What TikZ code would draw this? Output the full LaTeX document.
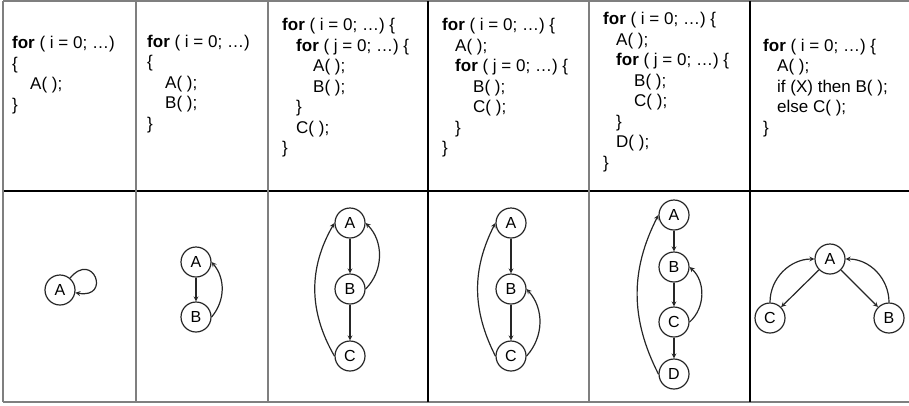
\documentclass[tikz,border=0pt]{standalone}
\usepackage{fontspec}
\setmainfont{Liberation Sans}
\usepackage{xcolor}
\usepackage{tikz}
\definecolor{gridGray}{HTML}{7F7F7F}
\definecolor{inkDark}{HTML}{262626}
\tikzset{
  cell/.style={line width=1.6pt, gridGray},
  rule/.style={line width=1.1pt, black},
  code/.style={anchor=west, align=left, inner sep=0pt, font=\fontsize{17}{20.5}\selectfont},
  vtx/.style={circle, draw=inkDark, line width=1.2pt, minimum size=30pt, inner sep=0pt, font=\fontsize{16}{16}\selectfont},
  edge/.style={-stealth, line width=1.2pt, inkDark},
}
\newcommand{\kw}[1]{\textbf{#1}}
\newcommand{\ind}[1]{\hspace*{#1pt}}

\begin{document}
\begin{tikzpicture}[x=1pt, y=-1pt]
  \useasboundingbox (0,0) rectangle (909,405);
  % table
  \draw[cell] (3,1) -- (909,1);
  \draw[cell] (3,402) -- (909,402);
  \draw[rule] (3,191) -- (909,191);
  \foreach \x in {3,136,268,589} \draw[cell] (\x,1) -- (\x,402);
  \foreach \x in {428,750} \draw[rule] (\x,1) -- (\x,402);
  % code
  \node[code] (c1) at (12,75) {\kw{for} ( i = 0; …)\\\{\\\ind{18}A( );\\\}};
  \node[code] (c2) at (147,84) {\kw{for} ( i = 0; …)\\\{\\\ind{18}A( );\\\ind{18}B( );\\\}};
  \node[code] (c3) at (282,88) {\kw{for} ( i = 0; …) \{\\\ind{14}\kw{for} ( j = 0; …) \{\\\ind{31}A( );\\\ind{31}B( );\\\ind{14}\}\\\ind{14}C( );\\\}};
  \node[code] (c4) at (442,88) {\kw{for} ( i = 0; …) \{\\\ind{13}A( );\\\ind{13}\kw{for} ( j = 0; …) \{\\\ind{31}B( );\\\ind{31}C( );\\\ind{13}\}\\\}};
  \node[code] (c5) at (603,92) {\kw{for} ( i = 0; …) \{\\\ind{13}A( );\\\ind{13}\kw{for} ( j = 0; …) \{\\\ind{31}B( );\\\ind{31}C( );\\\ind{13}\}\\\ind{13}D( );\\\}};
  \node[code] (c6) at (763,88) {\kw{for} ( i = 0; …) \{\\\ind{14}A( );\\\ind{14}if (X) then B( );\\\ind{14}else C( );\\\}};
  % graphs
  \node[vtx] (a1) at (60,290) {A};
  \draw[edge] (a1) to[out=50, in=-10, looseness=6] (a1);

  \node[vtx] (a2) at (196,262) {A};
  \node[vtx] (b2) at (196,317) {B};
  \draw[edge] (a2) -- (b2);
  \draw[edge] (b2.east) to[bend right=40] (a2.east);

  \node[vtx] (a3) at (350,223) {A};
  \node[vtx] (b3) at (350,289) {B};
  \node[vtx] (c3) at (350,356) {C};
  \draw[edge] (a3) -- (b3);
  \draw[edge] (b3) -- (c3);
  \draw[edge] (b3.east) to[bend right=45] (a3.east);
  \draw[edge] (c3.west) to[bend left=30] (a3.west);

  \node[vtx] (a4) at (511,223) {A};
  \node[vtx] (b4) at (511,289) {B};
  \node[vtx] (c4) at (511,356) {C};
  \draw[edge] (a4) -- (b4);
  \draw[edge] (b4) -- (c4);
  \draw[edge] (c4.east) to[bend right=42] (b4.east);
  \draw[edge] (c4.west) to[bend left=27] (a4.west);

  \node[vtx] (a5) at (674,215) {A};
  \node[vtx] (b5) at (674,267) {B};
  \node[vtx] (c5) at (674,322) {C};
  \node[vtx] (d5) at (674,374) {D};
  \draw[edge] (a5) -- (b5);
  \draw[edge] (b5) -- (c5);
  \draw[edge] (c5) -- (d5);
  \draw[edge] (c5.east) to[bend right=48] (b5.east);
  \draw[edge] (d5.west) to[bend left=27] (a5.west);

  \node[vtx] (a6) at (830,259) {A};
  \node[vtx] (c6) at (770,318) {C};
  \node[vtx] (b6) at (889,318) {B};
  \draw[edge] (a6) -- (c6);
  \draw[edge] (a6) -- (b6);
  \draw[edge] (c6.north) to[out=90, in=180] (a6.west);
  \draw[edge] (b6.north) to[out=90, in=0] (a6.east);
\end{tikzpicture}
\end{document}
